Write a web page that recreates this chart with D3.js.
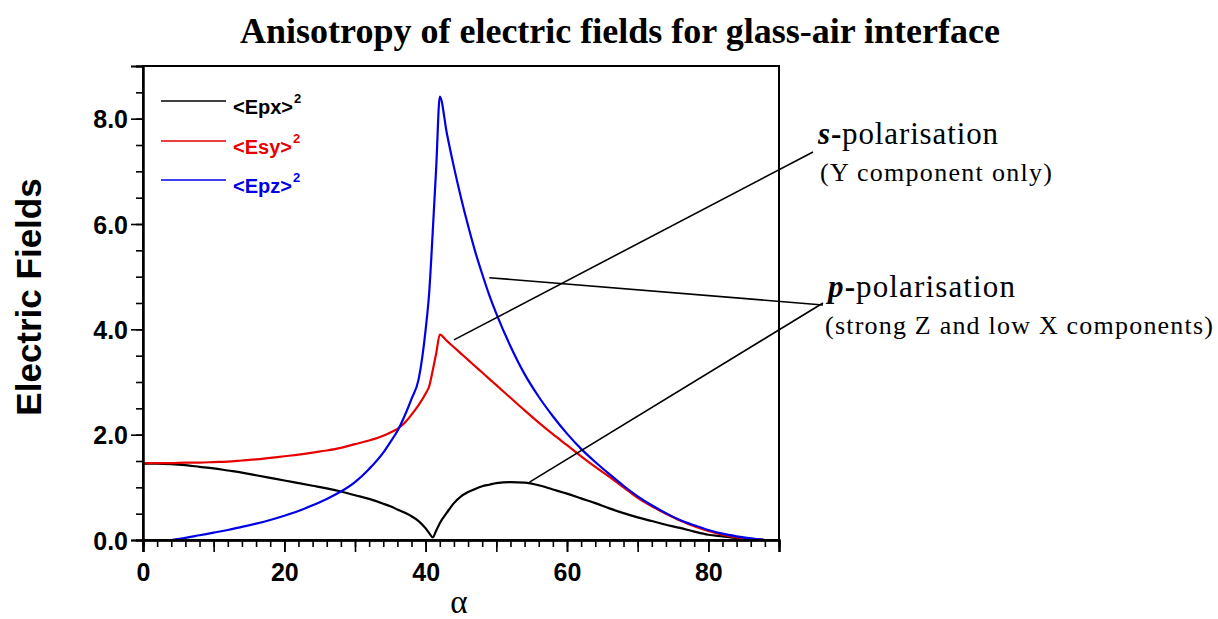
<!DOCTYPE html>
<html>
<head>
<meta charset="utf-8">
<script src="https://cdn.jsdelivr.net/npm/d3@7"></script>
<style>
  html, body { margin: 0; padding: 0; background: #fff; }
  svg { display: block; }
</style>
</head>
<body>
<svg id="chart" width="1218" height="619"></svg>
<script>
// Incidence angle α (degrees)
const angles = [0, 2, 4, 6, 8, 10, 12, 14, 16, 18, 20, 22, 24, 26, 28, 30, 32, 34, 35, 36, 37, 38, 39, 40,
  40.5, 41, 41.5, 42, 43, 44, 45, 46, 47, 48, 49, 50, 52, 54, 56, 58, 60, 62, 64, 66, 68, 70, 72, 74, 76, 78,
  80, 82, 84, 86, 88];

// <Epx>^2
const epx = [1.45, 1.45, 1.44, 1.42, 1.39, 1.36, 1.32, 1.28, 1.23, 1.18, 1.13, 1.08, 1.03, 0.98, 0.92, 0.85,
  0.78, 0.69, 0.64, 0.58, 0.52, 0.45, 0.36, 0.22, 0.13, 0.05, 0.18, 0.32, 0.52, 0.70, 0.83, 0.91, 0.97, 1.02,
  1.05, 1.08, 1.10, 1.09, 1.04, 0.96, 0.88, 0.79, 0.70, 0.60, 0.51, 0.43, 0.36, 0.29, 0.23, 0.16, 0.10, 0.07,
  0.04, 0.02, 0.00];

// <Esy>^2
const esy = [1.46, 1.46, 1.46, 1.47, 1.47, 1.48, 1.49, 1.51, 1.53, 1.56, 1.59, 1.62, 1.66, 1.70, 1.75, 1.82,
  1.89, 1.98, 2.04, 2.11, 2.22, 2.38, 2.56, 2.78, 2.92, 3.22, 3.55, 3.90, 3.78, 3.66, 3.54, 3.42, 3.30, 3.18,
  3.06, 2.94, 2.70, 2.46, 2.23, 2.01, 1.80, 1.59, 1.39, 1.20, 1.00, 0.80, 0.64, 0.50, 0.37, 0.26, 0.17, 0.10,
  0.05, 0.02, 0.00];

// <Epz>^2 (curve begins at 4°)
const epz = [null, null, 0.00, 0.04, 0.09, 0.14, 0.19, 0.25, 0.31, 0.38, 0.46, 0.55, 0.66, 0.78, 0.92, 1.10,
  1.35, 1.66, 1.86, 2.07, 2.35, 2.68, 3.05, 4.00, 4.70, 5.85, 7.10, 8.42, 7.72, 7.08, 6.50, 5.97, 5.48, 5.05,
  4.65, 4.30, 3.68, 3.15, 2.72, 2.35, 2.02, 1.73, 1.48, 1.25, 1.03, 0.83, 0.66, 0.51, 0.38, 0.28, 0.19, 0.12,
  0.07, 0.03, 0.00];

const seriesNames = ["<Epx>", "<Esy>", "<Epz>"];
const seriesColors = ["#000000", "#e60000", "#0000e6"];
const seriesValues = [epx, esy, epz];

const xTickValues = [0, 20, 40, 60, 80];
const yTickValues = [0, 2, 4, 6, 8];

const svg = d3.select("#chart");
const x = d3.scaleLinear().domain([0, 90]).range([143, 779]);
const y = d3.scaleLinear().domain([0, 9]).range([540, 66]);

const sans = "'Liberation Sans', Arial, sans-serif";
const serif = "'Liberation Serif', 'Times New Roman', serif";

// Title
svg.append("text")
  .attr("x", 620).attr("y", 43)
  .attr("text-anchor", "middle")
  .style("font-family", serif)
  .style("font-weight", "bold")
  .style("font-size", "36px")
  .text("Anisotropy of electric fields for glass-air interface");

// Curves
const line = d3.line()
  .defined(d => d[1] != null)
  .x(d => x(d[0]))
  .y(d => y(d[1]))
  .curve(d3.curveMonotoneX);

seriesValues.forEach((vals, i) => {
  svg.append("path")
    .datum(angles.map((a, j) => [a, vals[j]]))
    .attr("fill", "none")
    .attr("stroke", seriesColors[i])
    .attr("stroke-width", 2.2)
    .attr("stroke-linejoin", "round")
    .attr("d", line);
});

// Frame (top and right)
svg.append("rect")
  .attr("x", x(0)).attr("y", y(9))
  .attr("width", x(90) - x(0)).attr("height", y(0) - y(9))
  .attr("fill", "none").attr("stroke", "#000").attr("stroke-width", 2);

// Axes
const xMinor = d3.axisBottom(x).tickValues(d3.range(0, 91, 2)).tickSize(7).tickFormat("");
const xMid = d3.axisBottom(x).tickValues(d3.range(0, 91, 10)).tickSize(12).tickFormat("");
const xMajor = d3.axisBottom(x).tickValues(xTickValues).tickSize(12).tickPadding(11).tickFormat(d3.format("d"));
const yMinor = d3.axisLeft(y).tickValues(d3.range(0, 9.01, 0.5)).tickSize(7).tickFormat("");
const yMajor = d3.axisLeft(y).tickValues(yTickValues).tickSize(12).tickPadding(3).tickFormat(d3.format(".1f"));

function styleAxis(g) {
  g.select(".domain").attr("stroke-width", 2);
  g.selectAll(".tick line").attr("stroke-width", 1.6);
  g.selectAll("text")
    .style("font-family", sans)
    .style("font-weight", "bold")
    .style("font-size", "25px")
    .attr("fill", "#000");
}

svg.append("g").attr("transform", `translate(0,${y(0)})`).call(xMinor).call(styleAxis);
svg.append("g").attr("transform", `translate(0,${y(0)})`).call(xMid).call(styleAxis);
svg.append("g").attr("transform", `translate(0,${y(0)})`).call(xMajor).call(styleAxis);
svg.append("g").attr("transform", `translate(${x(0)},0)`).call(yMinor).call(styleAxis);
svg.append("g").attr("transform", `translate(${x(0)},0)`).call(yMajor).call(styleAxis)
  .selectAll("text").attr("dy", "0.36em");

// Axis titles
svg.append("text")
  .attr("x", x(45) - 2).attr("y", 613)
  .attr("text-anchor", "middle")
  .style("font-family", serif)
  .style("font-size", "33px")
  .text("α");

svg.append("text")
  .attr("transform", `translate(41,297) rotate(-90)`)
  .attr("text-anchor", "middle")
  .style("font-family", sans)
  .style("font-weight", "bold")
  .style("font-size", "35px")
  .text("Electric Fields");

// Legend
const legendRows = [101, 141, 180];
seriesNames.forEach((name, i) => {
  const ly = legendRows[i];
  svg.append("line")
    .attr("x1", 161).attr("x2", 226)
    .attr("y1", ly).attr("y2", ly)
    .attr("stroke", seriesColors[i]).attr("stroke-width", 1.6);
  const t = svg.append("text")
    .attr("x", 233).attr("y", ly + 13)
    .attr("fill", seriesColors[i])
    .style("font-family", sans)
    .style("font-weight", "bold")
    .style("font-size", "20px");
  t.append("tspan").text(name);
  t.append("tspan").attr("dy", -11).attr("dx", 1).style("font-size", "13px").text("2");
});

// Annotations
const ann = svg.append("g").attr("fill", "#000").style("font-family", serif);

const s1 = ann.append("text").attr("x", 818).attr("y", 144).style("font-size", "31px")
  .attr("textLength", 180);
s1.append("tspan").style("font-weight", "bold").style("font-style", "italic").text("s");
s1.append("tspan").style("font-weight", "bold").text("-");
s1.append("tspan").text("polarisation");
ann.append("text").attr("x", 820).attr("y", 181).style("font-size", "26px")
  .attr("textLength", 232).text("(Y component only)");

const p1 = ann.append("text").attr("x", 828).attr("y", 297).style("font-size", "31px")
  .attr("textLength", 187);
p1.append("tspan").style("font-weight", "bold").style("font-style", "italic").text("p");
p1.append("tspan").style("font-weight", "bold").text("-");
p1.append("tspan").text("polarisation");
ann.append("text").attr("x", 825).attr("y", 334).style("font-size", "26px")
  .attr("textLength", 388).text("(strong Z and low X components)");

// Pointer lines from labels to the curves
const pointer = (a, v, px, py) => svg.append("line")
  .attr("x1", x(a)).attr("y1", y(v)).attr("x2", px).attr("y2", py)
  .attr("stroke", "#000").attr("stroke-width", 1.6);

pointer(44.0, 3.80, 813, 152);
pointer(49.0, 4.98, 823, 305);
pointer(54.7, 1.10, 823, 303);
</script>
</body>
</html>
